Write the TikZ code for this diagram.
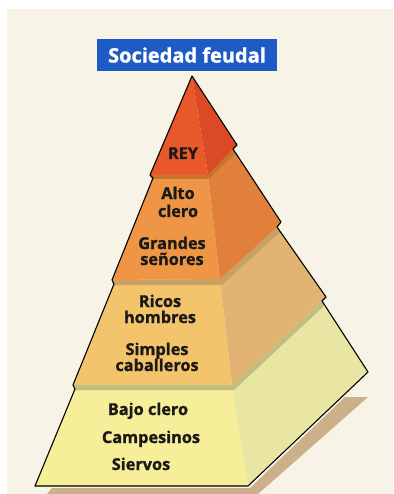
\documentclass[tikz,border=0pt]{standalone}
\usepackage{fontspec}
\setmainfont{Open Sans}
\newfontfamily\lblfont[FakeBold=1.2]{Open Sans}
\definecolor{bg}{HTML}{F7F3E7}
\definecolor{titlebl}{HTML}{1F5BC5}
\definecolor{ink}{HTML}{1C1A17}
\definecolor{reyF}{HTML}{E8582A}
\definecolor{reyS}{HTML}{DB4A26}
\definecolor{ttwoF}{HTML}{EF9646}
\definecolor{ttwoS}{HTML}{E0803A}
\definecolor{ttwoB}{HTML}{C8742F}
\definecolor{tthreeF}{HTML}{F4C46D}
\definecolor{tthreeS}{HTML}{E2B474}
\definecolor{tthreeB}{HTML}{C9A263}
\definecolor{tfourF}{HTML}{F7EE99}
\definecolor{tfourS}{HTML}{E9E6A3}
\definecolor{tfourB}{HTML}{C2BE80}
\definecolor{shad}{HTML}{CBB08A}
\begin{document}
\begin{tikzpicture}[x=1pt,y=-1pt,
  lbl/.style={font=\lblfont\bfseries\fontsize{16.3}{18}\selectfont, text=ink, anchor=base, inner sep=0pt},
  titlebox/.style={fill=titlebl, minimum width=180pt, minimum height=32pt, inner sep=0pt, text=white, font=\lblfont\bfseries\fontsize{20}{22}\selectfont},
  outline/.style={draw=black, line width=1.1pt, line join=round}]
\useasboundingbox (0,0) rectangle (393,494);
\fill[white] (0,0) rectangle (393,494);
\fill[bg] (7,9) rectangle (393,494);
% shadow
\fill[shad] (47,494) -- (52,488) -- (250,488) -- (345,397) -- (368,397) -- (258,494) -- cycle;
% tier 4
\fill[tfourF] (73,385) -- (232,385) -- (248,486) -- (35,486) -- (75,389) -- cycle;
\fill[tfourS] (232,385) -- (322,301) -- (368,372) -- (248,486) -- cycle;
\fill[tfourB] (73,385) -- (232,385) -- (322,301) -- (324,306) -- (234,390) -- (74,390) -- cycle;
% tier 3
\fill[tthreeF] (112,280) -- (220,279) -- (232,385) -- (73,385) -- (114,284) -- cycle;
\fill[tthreeS] (220,279) -- (277,227) -- (326,297) -- (322,301) -- (232,385) -- cycle;
\fill[tthreeB] (112,280) -- (220,279) -- (277,227) -- (280,232) -- (222,285) -- (113,285) -- cycle;
% tier 2
\fill[ttwoF] (150,175) -- (208,175) -- (220,279) -- (112,280) -- (153,178) -- cycle;
\fill[ttwoS] (208,175) -- (233,149) -- (281,222) -- (277,227) -- (220,279) -- cycle;
\fill[ttwoB] (150,175) -- (208,175) -- (233,149) -- (235,153) -- (209,179) -- (152,179) -- cycle;
% tier 1
\fill[reyF] (192,76) -- (208,175) -- (150,175) -- cycle;
\fill[reyS] (192,76) -- (237,145) -- (233,149) -- (208,175) -- cycle;
% outline
\draw[outline] (192,76) -- (237,145) -- (233,149) -- (281,222) -- (277,227) -- (326,297) -- (322,301) -- (368,372) -- (248,486) -- (35,486) -- (75,389) -- (73,385) -- (114,284) -- (112,280) -- (153,178) -- (150,175) -- cycle;
% title
\node[titlebox] (title) at (187,55) {Sociedad feudal};
% labels
\node[lbl] (rey) at (183,159) {REY};
\node[lbl] (alto) at (178,199) {Alto};
\node[lbl] (altoclero) at (178,217) {clero};
\node[lbl] (grandes) at (172,249) {Grandes};
\node[lbl] (senores) at (172,265) {señores};
\node[lbl] (ricos) at (160,307) {Ricos};
\node[lbl] (hombres) at (160,323) {hombres};
\node[lbl] (simples) at (157,355) {Simples};
\node[lbl] (caballeros) at (157,371) {caballeros};
\node[lbl] (bajo) at (148,415) {Bajo clero};
\node[lbl] (campesinos) at (151,443) {Campesinos};
\node[lbl] (siervos) at (141,470) {Siervos};
\end{tikzpicture}
\end{document}
